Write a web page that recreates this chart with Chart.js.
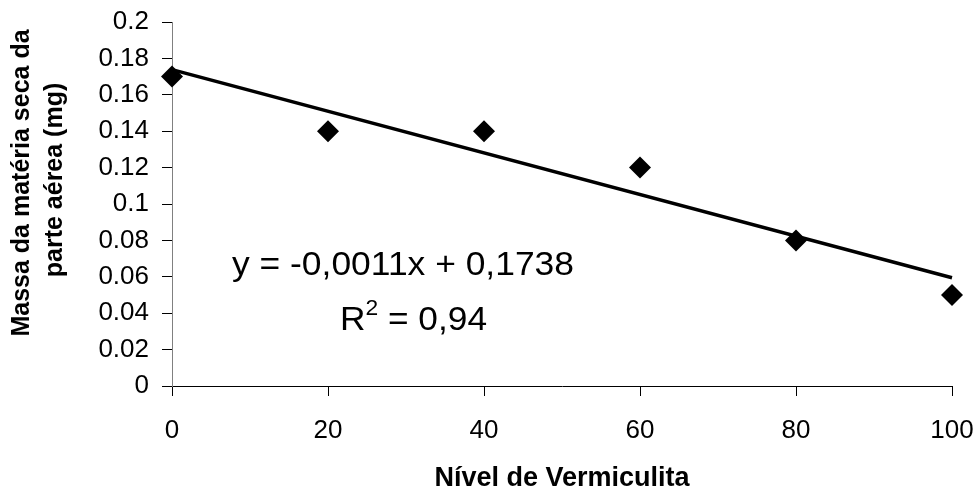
<!DOCTYPE html>
<html>
<head>
<meta charset="utf-8">
<script src="https://cdn.jsdelivr.net/npm/chart.js@4.4.1/dist/chart.umd.min.js"></script>
<style>
  html, body { margin: 0; padding: 0; background: #ffffff; }
  #wrap { width: 978px; height: 492px; }
</style>
</head>
<body>
<div id="wrap"><canvas id="c" width="978" height="492"></canvas></div>
<script>
// ---- data ----
const xValues = [0, 20, 40, 60, 80, 100];
const yValues = [0.17, 0.14, 0.14, 0.12, 0.08, 0.05];
const trendX = [0, 100];
const trendY = [0.1738, 0.0595];
const xTickValues = [0, 20, 40, 60, 80, 100];
const xTickLabels = ['0', '20', '40', '60', '80', '100'];
const yTickValues = [0, 0.02, 0.04, 0.06, 0.08, 0.1, 0.12, 0.14, 0.16, 0.18, 0.2];
const yTickLabels = ['0', '0.02', '0.04', '0.06', '0.08', '0.1', '0.12', '0.14', '0.16', '0.18', '0.2'];
const xTitle = 'Nível de Vermiculita';
const yTitleLines = ['Massa da matéria seca da', 'parte aérea (mg)'];
const equationText = 'y = -0,0011x + 0,1738';
const r2Label = 'R';
const r2Sup = '2';
const r2Value = ' = 0,94';

const FONT = '"Liberation Sans", Arial, Helvetica, sans-serif';

const pointsData = xValues.map((x, i) => ({ x: x, y: yValues[i] }));
const trendData = trendX.map((x, i) => ({ x: x, y: trendY[i] }));

const textPlugin = {
  id: 'texts',
  afterDraw(chart) {
    const ctx = chart.ctx;
    ctx.save();
    ctx.fillStyle = '#000000';
    // rotated y-axis title (two lines)
    ctx.font = 'bold 25px ' + FONT;
    ctx.textAlign = 'center';
    ctx.textBaseline = 'middle';
    const yCenters = [[22, 183], [55, 180]];
    yTitleLines.forEach((t, i) => {
      ctx.save();
      ctx.translate(yCenters[i][0], yCenters[i][1]);
      ctx.rotate(-Math.PI / 2);
      ctx.fillText(t, 0, 0);
      ctx.restore();
    });
    // equation annotation
    ctx.textBaseline = 'alphabetic';
    ctx.textAlign = 'left';
    ctx.font = '34px ' + FONT;
    const l1Left = 232, l1Right = 574, l1Base = 275;
    const w1 = ctx.measureText(equationText).width;
    const s1 = (l1Right - l1Left) / w1;
    ctx.save();
    ctx.translate(l1Left, l1Base);
    ctx.scale(s1, 1);
    ctx.fillText(equationText, 0, 0);
    ctx.restore();
    // R^2 line
    const l2Left = 340, l2Right = 487, l2Base = 330;
    ctx.font = '34px ' + FONT;
    const wR = ctx.measureText(r2Label).width;
    const wV = ctx.measureText(r2Value).width;
    ctx.font = '22px ' + FONT;
    const wS = ctx.measureText(r2Sup).width;
    const s2 = (l2Right - l2Left) / (wR + wS + wV);
    ctx.save();
    ctx.translate(l2Left, l2Base);
    ctx.scale(s2, 1);
    ctx.font = '34px ' + FONT;
    ctx.fillText(r2Label, 0, 0);
    ctx.font = '22px ' + FONT;
    ctx.fillText(r2Sup, wR, -15);
    ctx.font = '34px ' + FONT;
    ctx.fillText(r2Value, wR + wS, 0);
    ctx.restore();
    ctx.restore();
  }
};

new Chart(document.getElementById('c'), {
  type: 'scatter',
  data: {
    datasets: [
      {
        label: 'Linear',
        data: trendData,
        showLine: true,
        borderColor: '#000000',
        borderWidth: 3.5,
        pointRadius: 0,
        pointHoverRadius: 0,
        fill: false,
        clip: false
      },
      {
        label: 'Massa',
        data: pointsData,
        showLine: false,
        pointStyle: 'rectRot',
        pointRadius: 11,
        pointHoverRadius: 11,
        pointBackgroundColor: '#000000',
        pointBorderColor: '#000000',
        pointBorderWidth: 0,
        clip: false
      }
    ]
  },
  options: {
    responsive: false,
    animation: false,
    events: [],
    layout: { padding: { left: 0, right: 26, top: 22, bottom: 0 } },
    plugins: {
      legend: { display: false },
      tooltip: { enabled: false },
      title: { display: false }
    },
    scales: {
      x: {
        type: 'linear',
        min: 0,
        max: 100,
        afterBuildTicks: (s) => { s.ticks = xTickValues.map(v => ({ value: v })); },
        afterFit: (s) => { s.height = 106; s.paddingLeft = 0; s.paddingRight = 0; },
        ticks: {
          callback: (v, i) => xTickLabels[i],
          color: '#000000',
          font: { family: FONT, size: 26 },
          padding: 19,
          maxRotation: 0,
          autoSkip: false
        },
        grid: {
          display: true,
          drawOnChartArea: false,
          drawTicks: true,
          tickLength: 10,
          tickColor: '#000000',
          tickWidth: 1
        },
        border: { display: true, color: '#000000', width: 1 },
        title: {
          display: true,
          text: xTitle,
          color: '#000000',
          font: { family: FONT, size: 27, weight: 'bold', lineHeight: 1 },
          padding: { top: 0, bottom: 0 }
        }
      },
      y: {
        type: 'linear',
        min: 0,
        max: 0.2,
        afterBuildTicks: (s) => { s.ticks = yTickValues.map(v => ({ value: v })); },
        afterFit: (s) => { s.width = 172; s.paddingTop = 0; s.paddingBottom = 0; },
        ticks: {
          callback: (v, i) => yTickLabels[i],
          color: '#000000',
          font: { family: FONT, size: 26 },
          padding: 13,
          autoSkip: false
        },
        grid: {
          display: true,
          drawOnChartArea: false,
          drawTicks: true,
          tickLength: 10,
          tickColor: '#000000',
          tickWidth: 1
        },
        border: { display: true, color: '#808080', width: 1 }
      }
    }
  },
  plugins: [textPlugin]
});
</script>
</body>
</html>
